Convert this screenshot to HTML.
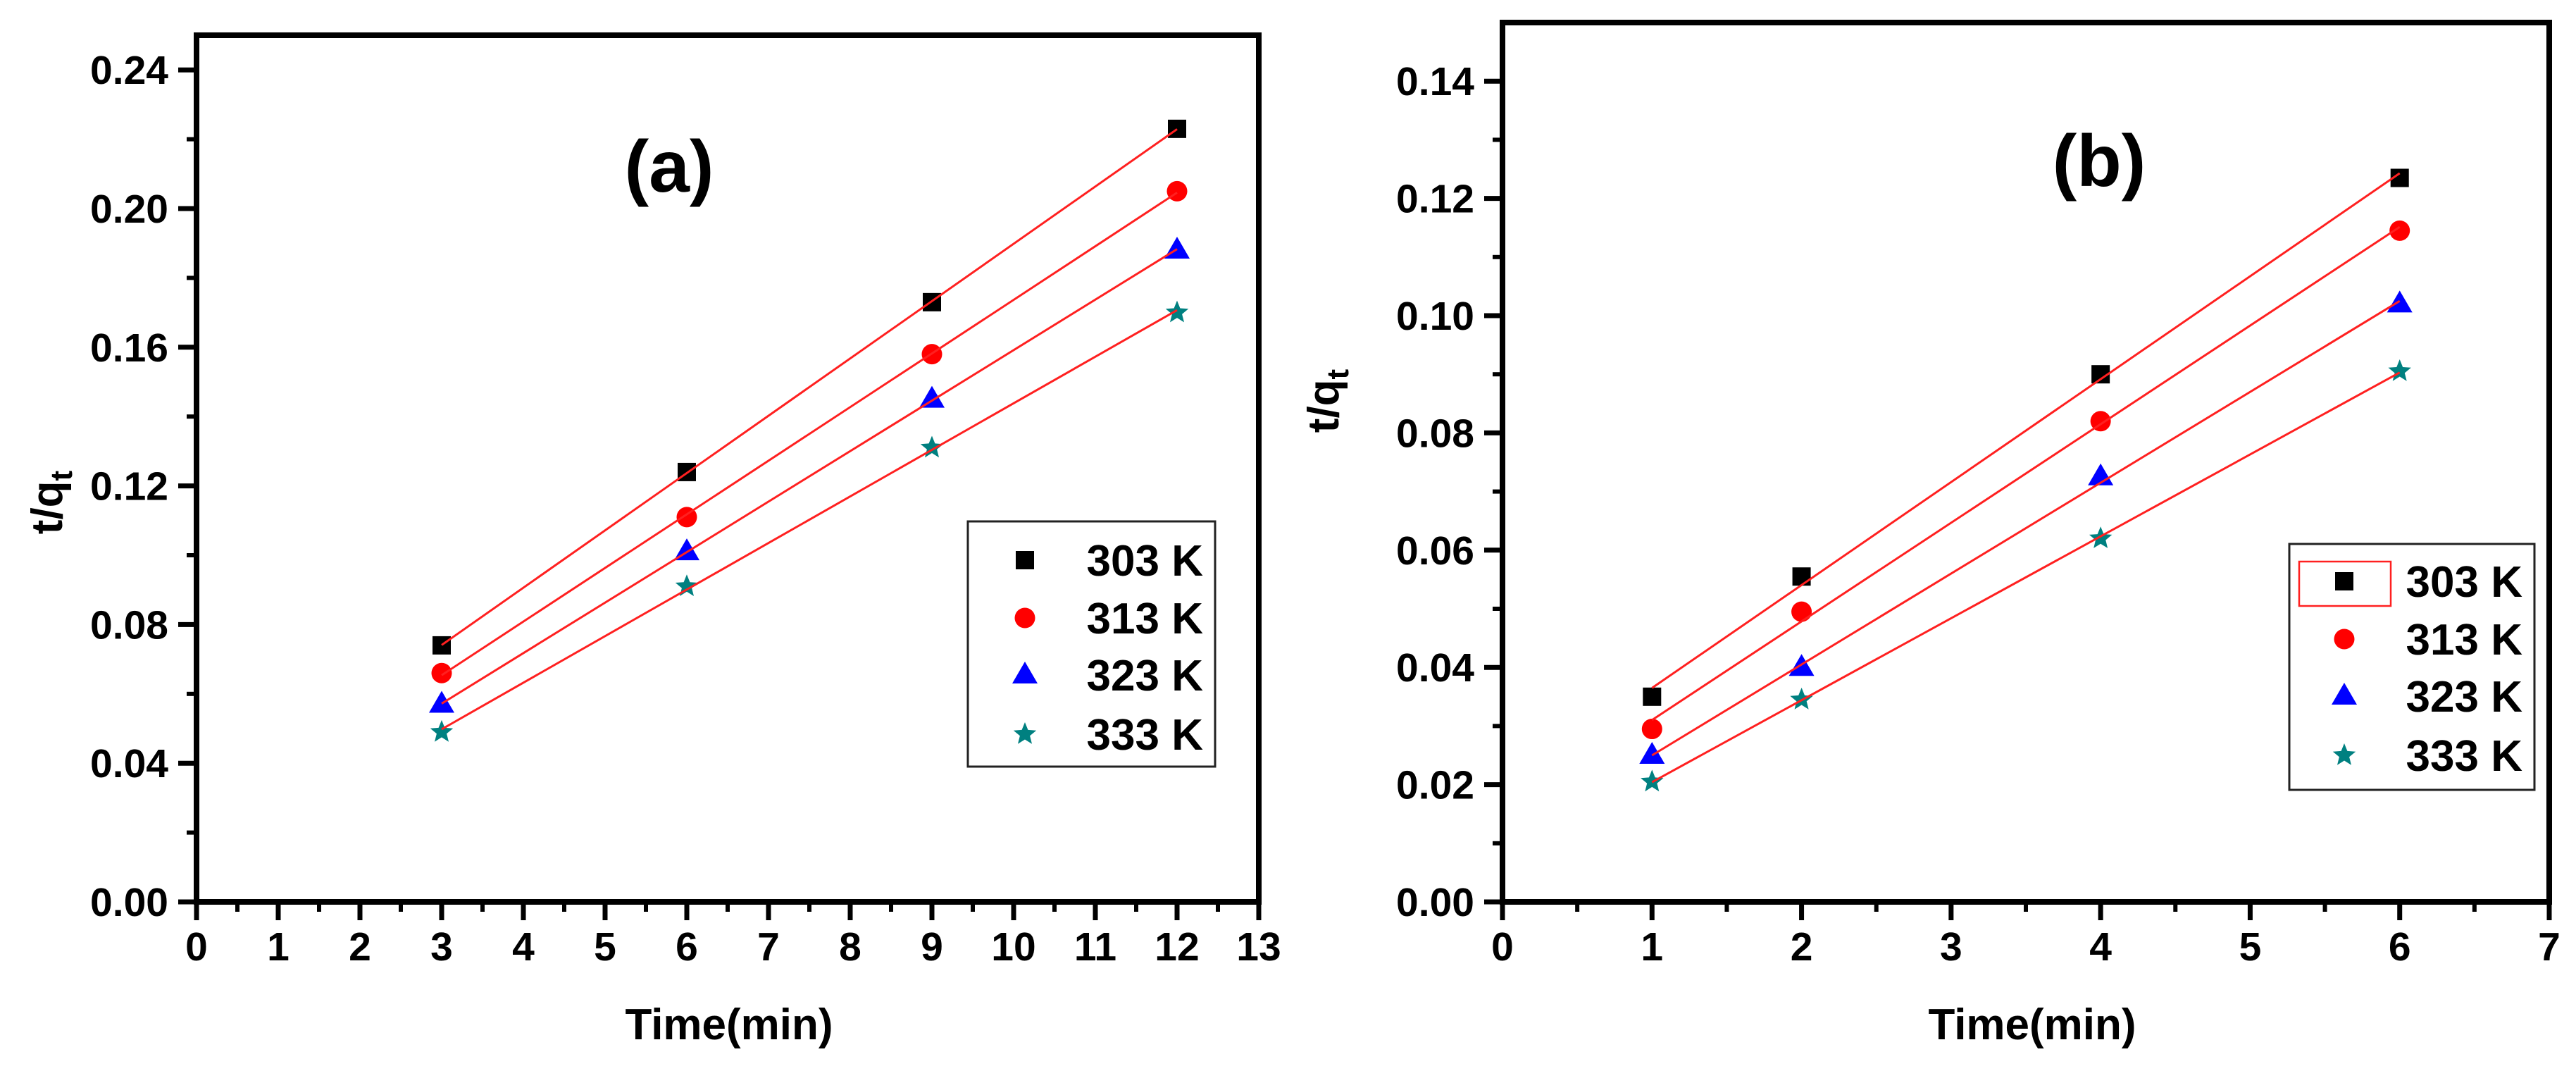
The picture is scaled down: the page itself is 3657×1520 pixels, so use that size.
<!DOCTYPE html>
<html><head><meta charset="utf-8"><style>
html,body{margin:0;padding:0;background:#fff;}
svg{display:block;font-family:"Liberation Sans",Arial,sans-serif;font-weight:bold;}
</style></head>
<body>
<svg id="fig" width="3657" height="1520" viewBox="0 0 3657 1520" xmlns="http://www.w3.org/2000/svg">
<g id="panelA"></g>
<g id="panelB"></g>
</svg>
<script>
// ---- Panel (a) data ----
const timeA = [3, 6, 9, 12];
const a303 = [0.074, 0.124, 0.173, 0.223];
const a313 = [0.066, 0.111, 0.158, 0.205];
const a323 = [0.057, 0.101, 0.145, 0.188];
const a333 = [0.049, 0.091, 0.131, 0.170];
const xTicksA = [0,1,2,3,4,5,6,7,8,9,10,11,12,13];
const yTicksA = ["0.00","0.04","0.08","0.12","0.16","0.20","0.24"];
// ---- Panel (b) data ----
const timeB = [1, 2, 4, 6];
const b303 = [0.035, 0.0555, 0.090, 0.1235];
const b313 = [0.0295, 0.0495, 0.082, 0.1145];
const b323 = [0.025, 0.040, 0.0725, 0.102];
const b333 = [0.0205, 0.0345, 0.062, 0.0905];
const xTicksB = [0,1,2,3,4,5,6,7];
const yTicksB = ["0.00","0.02","0.04","0.06","0.08","0.10","0.12","0.14"];
const seriesLabels = ["303 K","313 K","323 K","333  K"];

const NS = "http://www.w3.org/2000/svg";
function mk(tag, attrs, parent){
  const e = document.createElementNS(NS, tag);
  for (const k in attrs) e.setAttribute(k, attrs[k]);
  parent.appendChild(e);
  return e;
}
function fit(xs, ys){
  const n = xs.length;
  let sx=0, sy=0, sxx=0, sxy=0;
  for (let i=0;i<n;i++){ sx+=xs[i]; sy+=ys[i]; sxx+=xs[i]*xs[i]; sxy+=xs[i]*ys[i]; }
  const m = (n*sxy - sx*sy)/(n*sxx - sx*sx);
  return {m:m, b:(sy - m*sx)/n};
}
function marker(g, type, cx, cy, name){
  let e;
  if (type===0){
    e = mk("rect",{x:cx-13,y:cy-13,width:26,height:26,fill:"#000"},g);
  } else if (type===1){
    e = mk("circle",{cx:cx,cy:cy,r:14.5,fill:"#ff0000"},g);
  } else if (type===2){
    e = mk("polygon",{points:(cx)+","+(cy-19)+" "+(cx-18)+","+(cy+12)+" "+(cx+18)+","+(cy+12),fill:"#0000ff"},g);
  } else {
    let p=[];
    for (let i=0;i<10;i++){
      const r = i%2===0 ? 17 : 7.5;
      const an = -Math.PI/2 + i*Math.PI/5;
      p.push((cx+r*Math.cos(an)).toFixed(1)+","+(cy+r*Math.sin(an)).toFixed(1));
    }
    e = mk("polygon",{points:p.join(" "),fill:"#008080"},g);
  }
  
  
  return e;
}

function panel(cfg){
  const g = document.getElementById(cfg.id);
  const X = v => cfg.x0 + (v - 0)/(cfg.xmax) * (cfg.x1 - cfg.x0);
  const Y = v => cfg.yb - v/cfg.ymax * (cfg.yb - cfg.yt);
  // frame
  const fr = mk("rect",{x:cfg.x0,y:cfg.yt,width:cfg.x1-cfg.x0,height:cfg.yb-cfg.yt,fill:"none",stroke:"#000","stroke-width":8},g);
  
  
  // x ticks
  for (let i=0;i<cfg.xTicks.length;i++){
    const v = cfg.xTicks[i];
    const t = mk("line",{x1:X(v),x2:X(v),y1:cfg.yb,y2:cfg.yb+26,stroke:"#000","stroke-width":7},g);
    
    
    const l = mk("text",{x:X(v),y:cfg.yb+83,"text-anchor":"middle","font-size":57,fill:"#000"},g);
    l.textContent = v;
    
    
    if (i < cfg.xTicks.length-1){
      const mv = v + (cfg.xTicks[i+1]-v)/2;
      const mt = mk("line",{x1:X(mv),x2:X(mv),y1:cfg.yb,y2:cfg.yb+14,stroke:"#000","stroke-width":6},g);
      
      
    }
  }
  // y ticks
  for (let i=0;i<cfg.yTicks.length;i++){
    const v = parseFloat(cfg.yTicks[i]);
    const t = mk("line",{x1:cfg.x0-26,x2:cfg.x0,y1:Y(v),y2:Y(v),stroke:"#000","stroke-width":7},g);
    
    
    const l = mk("text",{x:cfg.x0-40,y:Y(v)+20,"text-anchor":"end","font-size":57,fill:"#000"},g);
    l.textContent = cfg.yTicks[i];
    
    
    const step = (i < cfg.yTicks.length-1) ? parseFloat(cfg.yTicks[i+1]) - v : parseFloat(cfg.yTicks[1]);
    const mv = v + step/2;
    if (mv < cfg.ymax){
      const mt = mk("line",{x1:cfg.x0-14,x2:cfg.x0,y1:Y(mv),y2:Y(mv),stroke:"#000","stroke-width":6},g);
      
      
    }
  }
  // axis titles
  const xt = mk("text",{x:cfg.xtitleX,y:1475,"text-anchor":"middle","font-size":62,fill:"#000"},g);
  xt.textContent = "Time(min)";
  
  
  const yt = mk("text",{x:0,y:0,"text-anchor":"middle","font-size":62,fill:"#000",transform:"translate("+cfg.ytitleX+","+cfg.ytitleY+") rotate(-90)"},g);
  
  
  yt.appendChild(document.createTextNode("t/q"));
  const sub = mk("tspan",{"font-size":44,dy:14},yt);
  sub.textContent = "t";
  // panel label
  const pl = mk("text",{x:cfg.labelX,y:cfg.labelY,"text-anchor":"middle","font-size":104,fill:"#000"},g);
  pl.textContent = cfg.label;
  
  
  // series: markers then fit lines on top
  const lg = mk("g",{},g);
  
  
  for (let s=0;s<cfg.series.length;s++){
    const ys = cfg.series[s];
    const sg = mk("g",{},g);
    
    
    for (let i=0;i<cfg.xs.length;i++){
      marker(sg, s, X(cfg.xs[i]), Y(ys[i]), 'data-point');
    }
    const f = fit(cfg.xs, ys);
    const xa = cfg.xs[0], xb = cfg.xs[cfg.xs.length-1];
    const ln = mk("line",{x1:X(xa),y1:Y(f.m*xa+f.b),x2:X(xb),y2:Y(f.m*xb+f.b),stroke:"#ff2020","stroke-width":3},lg);
    
    
  }
  g.appendChild(lg);
  // legend
  const L = cfg.legend;
  const leg = mk("g",{},g);
  
  
  const lb = mk("rect",{x:L.x,y:L.y,width:L.w,height:L.h,fill:"#fff",stroke:"#222","stroke-width":3},leg);
  
  
  if (L.redBox){
    const rb = mk("rect",{x:L.redBox[0],y:L.redBox[1],width:L.redBox[2],height:L.redBox[3],fill:"none",stroke:"#ff2020","stroke-width":2.5},leg);
    
    
  }
  for (let s=0;s<4;s++){
    const cy = L.rows[s];
    const en = mk("g",{},leg);
    
    
    marker(en, s, L.mx, cy, 'legend-marker');
    const tx = mk("text",{x:L.tx,y:cy+22,"text-anchor":"end","font-size":62,fill:"#000"},en);
    tx.textContent = seriesLabels[s];
    
    
  }
}

panel({id:"panelA", x0:279, x1:1787, yt:50, yb:1280, xmax:13, ymax:0.25,
  xTicks:xTicksA, yTicks:yTicksA, xs:timeA, series:[a303,a313,a323,a333],
  xtitleX:1035, ytitleX:88, ytitleY:713, label:"(a)", labelX:950, labelY:272,
  legend:{x:1374,y:740,w:351,h:348,mx:1455,tx:1708,rows:[795,877,958,1042]}});
panel({id:"panelB", x0:2133, x1:3619, yt:32, yb:1280, xmax:7, ymax:0.15,
  xTicks:xTicksB, yTicks:yTicksB, xs:timeB, series:[b303,b313,b323,b333],
  xtitleX:2885, ytitleX:1900, ytitleY:569, label:"(b)", labelX:2980, labelY:264,
  legend:{x:3250,y:772,w:348,h:349,mx:3328,tx:3581,rows:[825,907,988,1072],redBox:[3264,797,130,63]}});
</script>
</body></html>
